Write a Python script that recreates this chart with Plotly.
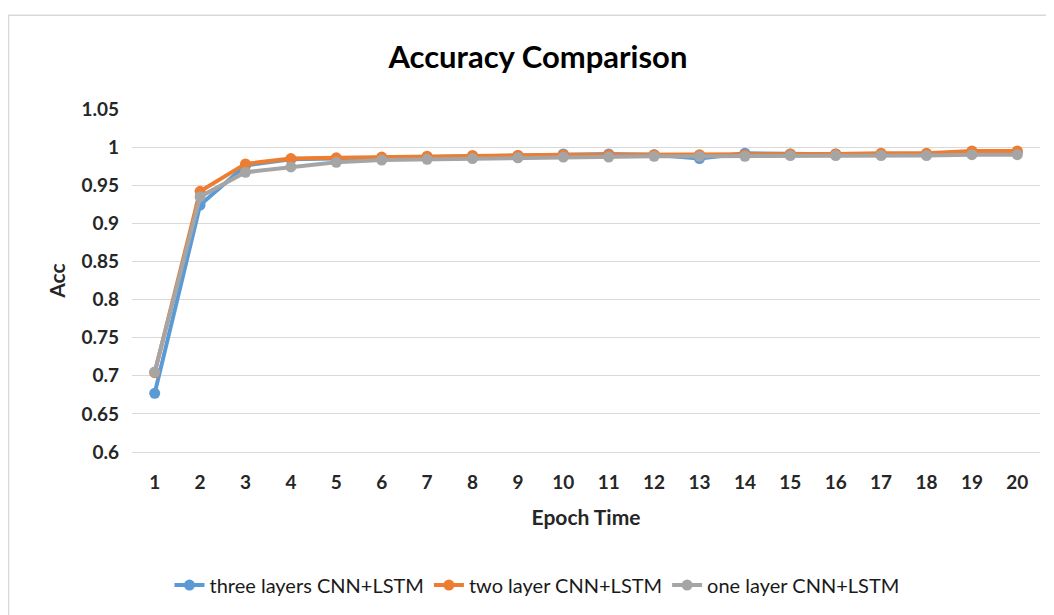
import plotly.graph_objects as go

epochs = list(range(1, 21))
three_layers = [0.677, 0.924, 0.976, 0.984, 0.985, 0.986, 0.987, 0.988, 0.989, 0.991, 0.991, 0.990, 0.985, 0.992, 0.991, 0.991, 0.990, 0.991, 0.993, 0.993]
two_layer = [0.704, 0.942, 0.978, 0.985, 0.986, 0.987, 0.988, 0.989, 0.989, 0.990, 0.990, 0.990, 0.990, 0.990, 0.991, 0.991, 0.992, 0.992, 0.995, 0.995]
one_layer = [0.705, 0.935, 0.967, 0.974, 0.980, 0.983, 0.984, 0.985, 0.986, 0.987, 0.987, 0.988, 0.988, 0.988, 0.989, 0.989, 0.989, 0.989, 0.990, 0.990]
series_names = ["three layers CNN+LSTM", "two layer CNN+LSTM", "one layer CNN+LSTM"]
colors = ["#5B9BD5", "#ED7D31", "#A5A5A5"]
y_ticks = [0.6, 0.65, 0.7, 0.75, 0.8, 0.85, 0.9, 0.95, 1.0, 1.05]
y_tick_text = ["0.6", "0.65", "0.7", "0.75", "0.8", "0.85", "0.9", "0.95", "1", "1.05"]

font_family = "Lato, Open Sans, sans-serif"

fig = go.Figure()
for name, vals, col in zip(series_names, [three_layers, two_layer, one_layer], colors):
    fig.add_trace(go.Scatter(
        x=epochs, y=vals, name=name, mode="lines+markers",
        line=dict(color=col, width=4),
        marker=dict(color=col, size=11),
    ))

fig.update_layout(
    width=1046, height=607,
    margin=dict(l=124, r=14, t=101, b=162),
    paper_bgcolor="white", plot_bgcolor="white",
    font=dict(family=font_family, color="#262626"),
    title=dict(text="<b>Accuracy Comparison</b>", x=0.447, xref="paper", xanchor="center",
               y=1 - 49 / 607, yref="container", yanchor="middle",
               font=dict(size=31, color="#000000", family=font_family)),
    xaxis=dict(
        range=[0.5, 20.5], tickmode="array", tickvals=epochs,
        ticktext=[f"<b>{e}</b>" for e in epochs],
        showgrid=False, zeroline=False, showline=True, linecolor="#D9D9D9", linewidth=1,
        ticks="", tickfont=dict(size=19, color="#262626"), ticklabelstandoff=13,
        title=dict(text="<b>Epoch Time</b>", font=dict(size=21, color="#262626"), standoff=18),
    ),
    yaxis=dict(
        range=[0.6, 1.05], tickmode="array", tickvals=y_ticks,
        ticktext=[f"<b>{t}</b>" for t in y_tick_text],
        showgrid=True, gridcolor="#D9D9D9", gridwidth=1, zeroline=False,
        ticks="", tickfont=dict(size=19, color="#262626"), ticklabelstandoff=12,
        title=dict(text="<b>Acc</b>", font=dict(size=21, color="#262626"), standoff=10),
    ),
    legend=dict(orientation="h", x=0.446, xanchor="center", y=-0.384, yanchor="middle",
                font=dict(size=20, color="#1a1a1a"), itemwidth=30, tracegroupgap=0),
    showlegend=True,
)

fig.add_shape(type="rect", xref="paper", yref="paper",
              x0=-0.136, x1=1.03, y0=-0.5, y1=1.273,
              line=dict(color="#D9D9D9", width=1.5), fillcolor="rgba(0,0,0,0)", layer="below")

fig.write_html("out.html")
